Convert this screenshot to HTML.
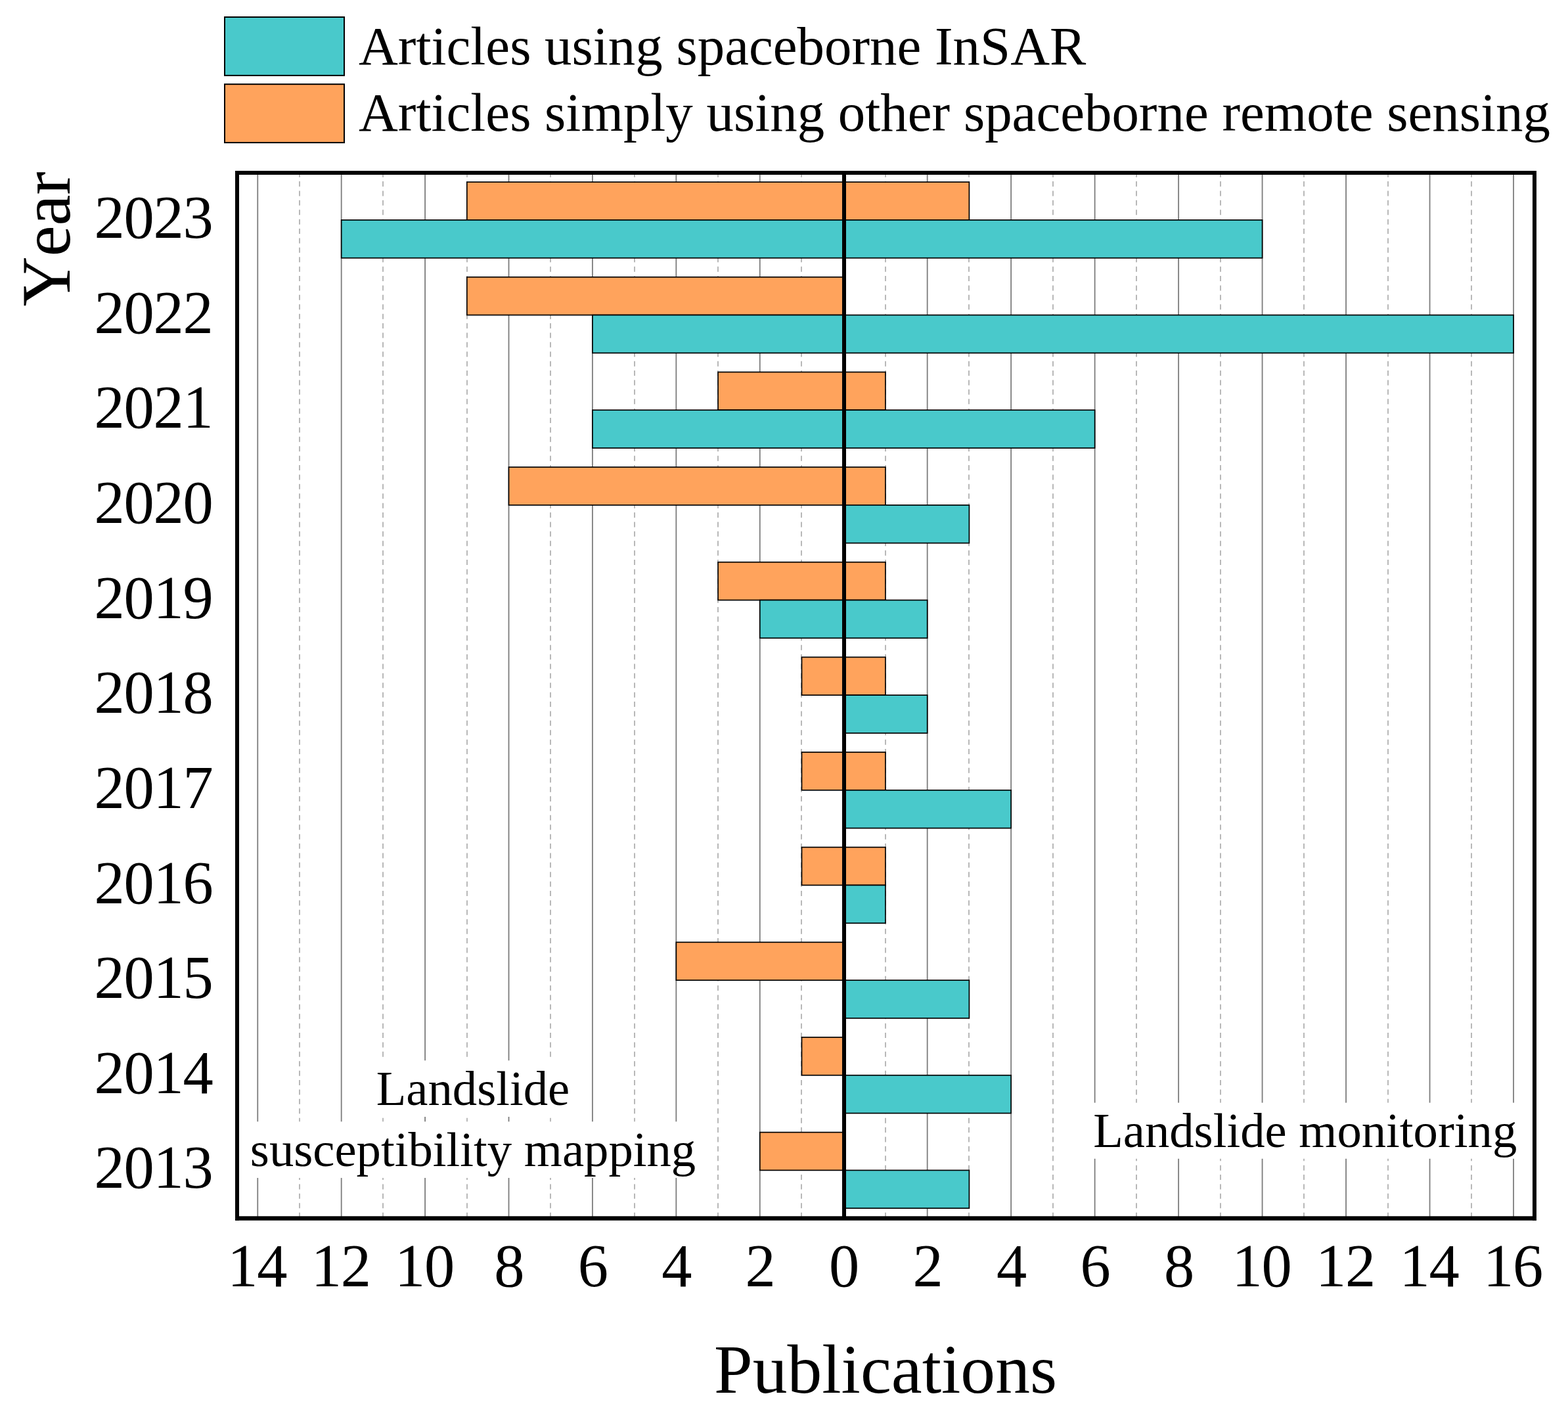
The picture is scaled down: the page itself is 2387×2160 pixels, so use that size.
<!DOCTYPE html>
<html lang="en">
<head>
<meta charset="utf-8">
<title>Publications by year</title>
<style>
html,body{margin:0;padding:0;background:#fff;}
body{width:2387px;height:2160px;overflow:hidden;}
svg{display:block;}
text{font-family:"Liberation Serif",serif;fill:#000;font-kerning:none;}
</style>
</head>
<body>
<svg role="img" aria-label="Publications per year" width="2387" height="2160" viewBox="0 0 2387 2160">
<rect x="0" y="0" width="2387" height="2160" fill="#ffffff"/>
<g id="grid">
<line x1="392.26" y1="263.0" x2="392.26" y2="1854.5" stroke="#7c7c7c" stroke-width="1.8"/>
<line x1="456.00" y1="263.0" x2="456.00" y2="1854.5" stroke="#b8b8b8" stroke-width="2.0" stroke-dasharray="8 6.4" stroke-dashoffset="1.35"/>
<line x1="519.68" y1="263.0" x2="519.68" y2="1854.5" stroke="#7c7c7c" stroke-width="1.8"/>
<line x1="583.00" y1="263.0" x2="583.00" y2="1854.5" stroke="#b8b8b8" stroke-width="2.0" stroke-dasharray="8 6.4" stroke-dashoffset="1.35"/>
<line x1="647.10" y1="263.0" x2="647.10" y2="1854.5" stroke="#7c7c7c" stroke-width="1.8"/>
<line x1="711.00" y1="263.0" x2="711.00" y2="1854.5" stroke="#b8b8b8" stroke-width="2.0" stroke-dasharray="8 6.4" stroke-dashoffset="1.35"/>
<line x1="774.52" y1="263.0" x2="774.52" y2="1854.5" stroke="#7c7c7c" stroke-width="1.8"/>
<line x1="838.00" y1="263.0" x2="838.00" y2="1854.5" stroke="#b8b8b8" stroke-width="2.0" stroke-dasharray="8 6.4" stroke-dashoffset="1.35"/>
<line x1="901.94" y1="263.0" x2="901.94" y2="1854.5" stroke="#7c7c7c" stroke-width="1.8"/>
<line x1="966.00" y1="263.0" x2="966.00" y2="1854.5" stroke="#b8b8b8" stroke-width="2.0" stroke-dasharray="8 6.4" stroke-dashoffset="1.35"/>
<line x1="1029.36" y1="263.0" x2="1029.36" y2="1854.5" stroke="#7c7c7c" stroke-width="1.8"/>
<line x1="1093.00" y1="263.0" x2="1093.00" y2="1854.5" stroke="#b8b8b8" stroke-width="2.0" stroke-dasharray="8 6.4" stroke-dashoffset="1.35"/>
<line x1="1156.78" y1="263.0" x2="1156.78" y2="1854.5" stroke="#7c7c7c" stroke-width="1.8"/>
<line x1="1220.00" y1="263.0" x2="1220.00" y2="1854.5" stroke="#b8b8b8" stroke-width="2.0" stroke-dasharray="8 6.4" stroke-dashoffset="1.35"/>
<line x1="1348.00" y1="263.0" x2="1348.00" y2="1854.5" stroke="#b8b8b8" stroke-width="2.0" stroke-dasharray="8 6.4" stroke-dashoffset="1.35"/>
<line x1="1411.68" y1="263.0" x2="1411.68" y2="1854.5" stroke="#7c7c7c" stroke-width="1.8"/>
<line x1="1475.00" y1="263.0" x2="1475.00" y2="1854.5" stroke="#b8b8b8" stroke-width="2.0" stroke-dasharray="8 6.4" stroke-dashoffset="1.35"/>
<line x1="1539.16" y1="263.0" x2="1539.16" y2="1854.5" stroke="#7c7c7c" stroke-width="1.8"/>
<line x1="1603.00" y1="263.0" x2="1603.00" y2="1854.5" stroke="#b8b8b8" stroke-width="2.0" stroke-dasharray="8 6.4" stroke-dashoffset="1.35"/>
<line x1="1666.64" y1="263.0" x2="1666.64" y2="1854.5" stroke="#7c7c7c" stroke-width="1.8"/>
<line x1="1730.00" y1="263.0" x2="1730.00" y2="1854.5" stroke="#b8b8b8" stroke-width="2.0" stroke-dasharray="8 6.4" stroke-dashoffset="1.35"/>
<line x1="1794.12" y1="263.0" x2="1794.12" y2="1854.5" stroke="#7c7c7c" stroke-width="1.8"/>
<line x1="1858.00" y1="263.0" x2="1858.00" y2="1854.5" stroke="#b8b8b8" stroke-width="2.0" stroke-dasharray="8 6.4" stroke-dashoffset="1.35"/>
<line x1="1921.60" y1="263.0" x2="1921.60" y2="1854.5" stroke="#7c7c7c" stroke-width="1.8"/>
<line x1="1985.00" y1="263.0" x2="1985.00" y2="1854.5" stroke="#b8b8b8" stroke-width="2.0" stroke-dasharray="8 6.4" stroke-dashoffset="1.35"/>
<line x1="2049.08" y1="263.0" x2="2049.08" y2="1854.5" stroke="#7c7c7c" stroke-width="1.8"/>
<line x1="2113.00" y1="263.0" x2="2113.00" y2="1854.5" stroke="#b8b8b8" stroke-width="2.0" stroke-dasharray="8 6.4" stroke-dashoffset="1.35"/>
<line x1="2176.56" y1="263.0" x2="2176.56" y2="1854.5" stroke="#7c7c7c" stroke-width="1.8"/>
<line x1="2240.00" y1="263.0" x2="2240.00" y2="1854.5" stroke="#b8b8b8" stroke-width="2.0" stroke-dasharray="8 6.4" stroke-dashoffset="1.35"/>
<line x1="2304.04" y1="263.0" x2="2304.04" y2="1854.5" stroke="#7c7c7c" stroke-width="1.8"/>
</g>
<g id="notes-bg" fill="#ffffff">
<rect x="568.0" y="1614.3" width="304.0" height="85.7"/>
<rect x="381.0" y="1707.3" width="680.0" height="85.7"/>
<rect x="1664.0" y="1678.6" width="645.0" height="85.2"/>
</g>
<g id="bars" stroke="#000000" stroke-width="1.7">
<rect x="710.81" y="277.10" width="574.19" height="57.80" fill="#ffa35c"/>
<rect x="1285.00" y="277.10" width="190.42" height="57.80" fill="#ffa35c"/>
<rect x="519.68" y="334.90" width="765.32" height="57.80" fill="#49c9cb"/>
<rect x="1285.00" y="334.90" width="636.60" height="57.80" fill="#49c9cb"/>
<rect x="710.81" y="421.75" width="574.19" height="57.80" fill="#ffa35c"/>
<rect x="901.94" y="479.55" width="383.06" height="57.80" fill="#49c9cb"/>
<rect x="1285.00" y="479.55" width="1019.04" height="57.80" fill="#49c9cb"/>
<rect x="1093.07" y="566.40" width="191.93" height="57.80" fill="#ffa35c"/>
<rect x="1285.00" y="566.40" width="62.94" height="57.80" fill="#ffa35c"/>
<rect x="901.94" y="624.20" width="383.06" height="57.80" fill="#49c9cb"/>
<rect x="1285.00" y="624.20" width="381.64" height="57.80" fill="#49c9cb"/>
<rect x="774.52" y="711.05" width="510.48" height="57.80" fill="#ffa35c"/>
<rect x="1285.00" y="711.05" width="62.94" height="57.80" fill="#ffa35c"/>
<rect x="1285.00" y="768.85" width="190.42" height="57.80" fill="#49c9cb"/>
<rect x="1093.07" y="855.70" width="191.93" height="57.80" fill="#ffa35c"/>
<rect x="1285.00" y="855.70" width="62.94" height="57.80" fill="#ffa35c"/>
<rect x="1156.78" y="913.50" width="128.22" height="57.80" fill="#49c9cb"/>
<rect x="1285.00" y="913.50" width="126.68" height="57.80" fill="#49c9cb"/>
<rect x="1220.49" y="1000.35" width="64.51" height="57.80" fill="#ffa35c"/>
<rect x="1285.00" y="1000.35" width="62.94" height="57.80" fill="#ffa35c"/>
<rect x="1285.00" y="1058.15" width="126.68" height="57.80" fill="#49c9cb"/>
<rect x="1220.49" y="1145.00" width="64.51" height="57.80" fill="#ffa35c"/>
<rect x="1285.00" y="1145.00" width="62.94" height="57.80" fill="#ffa35c"/>
<rect x="1285.00" y="1202.80" width="254.16" height="57.80" fill="#49c9cb"/>
<rect x="1220.49" y="1289.65" width="64.51" height="57.80" fill="#ffa35c"/>
<rect x="1285.00" y="1289.65" width="62.94" height="57.80" fill="#ffa35c"/>
<rect x="1285.00" y="1347.45" width="62.94" height="57.80" fill="#49c9cb"/>
<rect x="1029.36" y="1434.30" width="255.64" height="57.80" fill="#ffa35c"/>
<rect x="1285.00" y="1492.10" width="190.42" height="57.80" fill="#49c9cb"/>
<rect x="1220.49" y="1578.95" width="64.51" height="57.80" fill="#ffa35c"/>
<rect x="1285.00" y="1636.75" width="254.16" height="57.80" fill="#49c9cb"/>
<rect x="1156.78" y="1723.60" width="128.22" height="57.80" fill="#ffa35c"/>
<rect x="1285.00" y="1781.40" width="190.42" height="57.80" fill="#49c9cb"/>
</g>
<line x1="1285.0" y1="263.0" x2="1285.0" y2="1854.5" stroke="#000" stroke-width="6"/>
<g id="frame" fill="#000000">
<rect x="358.0" y="260.0" width="1981.0" height="6.0"/>
<rect x="358.0" y="1851.3" width="1981.0" height="6.5"/>
<rect x="358.0" y="260.0" width="6.0" height="1597.8"/>
<rect x="2333.0" y="260.0" width="6.0" height="1597.8"/>
</g>
<g id="legend">
<rect x="342.0" y="26.0" width="182.0" height="88.9" fill="#49c9cb" stroke="#000" stroke-width="2"/>
<rect x="342.0" y="128.2" width="182.0" height="88.9" fill="#ffa35c" stroke="#000" stroke-width="2"/>
<text x="546.0" y="98.0" font-size="82.9">Articles using spaceborne InSAR</text>
<text x="546.0" y="198.5" font-size="82.9">Articles simply using other spaceborne remote sensing</text>
</g>
<g id="ylabels" font-size="92.5" text-anchor="end" letter-spacing="-1.25">
<text x="323.5" y="361.9">2023</text>
<text x="323.5" y="506.6">2022</text>
<text x="323.5" y="651.2">2021</text>
<text x="323.5" y="795.9">2020</text>
<text x="323.5" y="940.5">2019</text>
<text x="323.5" y="1085.2">2018</text>
<text x="323.5" y="1229.8">2017</text>
<text x="323.5" y="1374.5">2016</text>
<text x="323.5" y="1519.1">2015</text>
<text x="323.5" y="1663.8">2014</text>
<text x="323.5" y="1808.4">2013</text>
</g>
<g id="xlabels" font-size="92.5" text-anchor="middle" letter-spacing="-1.25">
<text x="391.3" y="1957.6">14</text>
<text x="518.7" y="1957.6">12</text>
<text x="646.1" y="1957.6">10</text>
<text x="774.8" y="1957.6">8</text>
<text x="902.2" y="1957.6">6</text>
<text x="1029.7" y="1957.6">4</text>
<text x="1157.1" y="1957.6">2</text>
<text x="1284.5" y="1957.6">0</text>
<text x="1412.0" y="1957.6">2</text>
<text x="1539.5" y="1957.6">4</text>
<text x="1666.9" y="1957.6">6</text>
<text x="1794.4" y="1957.6">8</text>
<text x="1920.6" y="1957.6">10</text>
<text x="2048.1" y="1957.6">12</text>
<text x="2175.6" y="1957.6">14</text>
<text x="2303.0" y="1957.6">16</text>
</g>
<text x="1348.0" y="2119.7" font-size="105.6" text-anchor="middle">Publications</text>
<text transform="translate(106.0 364.0) rotate(-90)" font-size="105.6" text-anchor="middle">Year</text>
<g id="notes" font-size="74.7" text-anchor="middle">
<text x="720.0" y="1681.5">Landslide</text>
<text x="720.0" y="1775.0">susceptibility mapping</text>
<text x="1986.7" y="1746.0">Landslide monitoring</text>
</g>
</svg>
</body>
</html>
